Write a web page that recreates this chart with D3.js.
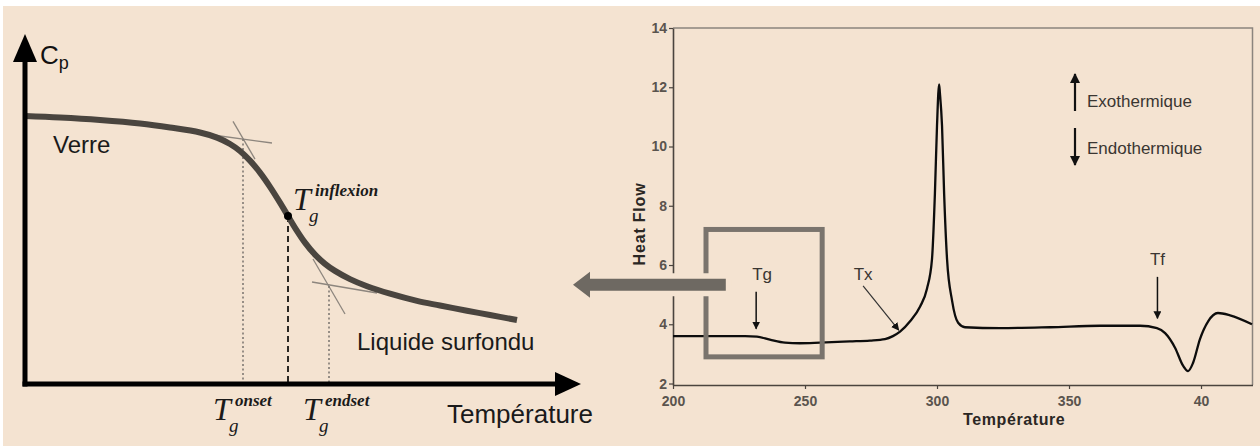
<!DOCTYPE html>
<html>
<head>
<meta charset="utf-8">
<script src="https://cdn.jsdelivr.net/npm/d3@7/dist/d3.min.js"></script>
<style>
  html, body { margin: 0; padding: 0; background: #ffffff; }
  svg { display: block; }
</style>
</head>
<body>
<svg id="fig" width="1260" height="446"></svg>
<script>
// ---------- Left panel: schematic Cp(T) across the glass transition ----------
const cpTemp = [0, 35, 75, 115, 145, 175, 192, 205, 215, 225, 235, 245, 255, 263, 271, 280, 290, 300, 310, 325, 342, 365, 392, 415, 442, 465, 492];
const cpValue = [268, 266.5, 264, 260.5, 256.5, 251.5, 246.4, 240, 233, 223.4, 211.4, 197.2, 181.4, 168, 154.7, 141.4, 129.4, 120.2, 113.1, 104.9, 97.8, 90.3, 83.1, 78.5, 73.2, 69, 64];

// characteristic temperatures (onset, inflexion, endset) and the Cp level where each is read
const tgNames = ["onset", "inflexion", "endset"];
const tgTemp = [218, 263, 304];
const tgCp = [245, 168, 98];

// tangent segments: [T1, Cp1, T2, Cp2]
const tangentGlass = [188, 249, 247, 241];
const tangentSteepUpper = [208, 262.6, 230, 224.8];
const tangentSteepLower = [288, 125, 320, 70];
const tangentLiquid = [287, 102, 352, 91];

// ---------- Right panel: DSC trace ----------
const dscTemp = [200, 217.8, 227.3, 231.8, 236.7, 242.4, 248, 255.7, 267, 274.6, 280.3, 283.3, 286, 289.8, 293.6, 296.2, 298.1, 299.2, 300, 300.8, 301.1, 301.9, 302.7, 303.8, 305.7, 308, 310.6, 323.9, 342.8, 361.7, 376.9, 383.3, 386.4, 390.2, 393.2, 395.1, 397, 399.6, 402.7, 406.4, 411, 419.3];
const dscHeatFlow = [3.6, 3.6, 3.6, 3.58, 3.48, 3.38, 3.36, 3.38, 3.42, 3.45, 3.5, 3.6, 3.75, 4.1, 4.6, 5.2, 6.2, 8.4, 10.7, 12.1, 11.8, 10.7, 8.4, 6.2, 4.8, 4.05, 3.9, 3.87, 3.9, 3.95, 3.95, 3.87, 3.7, 3.2, 2.6, 2.42, 2.7, 3.5, 4.1, 4.38, 4.3, 4.0];

const yTicks = [2, 4, 6, 8, 10, 12, 14];
const yTickLabels = ["2", "4", "6", "8", "10", "12", "14"];
const xTicks = [200, 250, 300, 350, 400];
const xTickLabels = ["200", "250", "300", "350", "40"];

// event markers on the DSC trace: label, temperature, arrow start/end heat flow
const eventLabels = ["Tg", "Tf"];
const eventTemp = [231.5, 383.5];
const eventFrom = [5.1, 5.6];
const eventTo = [3.85, 4.2];

const BG = "#f4e3d1";
const svg = d3.select("#fig");

svg.append("rect").attr("x", 3).attr("y", 6).attr("width", 1257).attr("height", 440).attr("fill", BG);

const defs = svg.append("defs");
function addTip(id, size) {
  defs.append("marker").attr("id", id).attr("viewBox", "0 0 10 10")
    .attr("refX", 9).attr("refY", 5).attr("markerWidth", size).attr("markerHeight", size)
    .attr("markerUnits", "userSpaceOnUse").attr("orient", "auto")
    .append("path").attr("d", "M0,0 L10,5 L0,10 Z").attr("fill", "#111");
}
addTip("tip", 8);
addTip("tipBig", 10);

// ================= LEFT PANEL =================
const xL = d3.scaleLinear().domain([0, 555]).range([25, 580]);
const yL = d3.scaleLinear().domain([0, 350]).range([384, 34]);
const gL = svg.append("g");

// tangents (thin)
[tangentGlass, tangentSteepUpper, tangentSteepLower, tangentLiquid].forEach(t => {
  gL.append("line")
    .attr("x1", xL(t[0])).attr("y1", yL(t[1])).attr("x2", xL(t[2])).attr("y2", yL(t[3]))
    .attr("stroke", "#8d867e").attr("stroke-width", 1.3);
});

// vertical guides at Tg onset / inflexion / endset
tgTemp.forEach((t, i) => {
  const isInf = tgNames[i] === "inflexion";
  gL.append("line")
    .attr("x1", xL(t)).attr("x2", xL(t)).attr("y1", yL(tgCp[i])).attr("y2", yL(0))
    .attr("stroke", isInf ? "#2a2622" : "#7f7973")
    .attr("stroke-width", isInf ? 2 : 1.6)
    .attr("stroke-dasharray", isInf ? "6,4" : "2,2.5");
});

// Cp curve
const cpLine = d3.line().x((d, i) => xL(cpTemp[i])).y((d, i) => yL(cpValue[i])).curve(d3.curveCatmullRom.alpha(0.5));
gL.append("path").datum(cpTemp).attr("d", cpLine)
  .attr("fill", "none").attr("stroke", "#4a453f").attr("stroke-width", 6).attr("stroke-linecap", "butt");

// inflexion point
gL.append("circle").attr("cx", xL(tgTemp[1])).attr("cy", yL(tgCp[1])).attr("r", 4).attr("fill", "#000");

// axes with arrow heads
gL.append("line").attr("x1", xL(0)).attr("x2", xL(0)).attr("y1", yL(0) + 2.5).attr("y2", 58)
  .attr("stroke", "#000").attr("stroke-width", 5);
gL.append("path").attr("d", `M${xL(0)},34 L${xL(0) + 12},62 L${xL(0) - 12},62 Z`).attr("fill", "#000");
gL.append("line").attr("x1", xL(0) - 2.5).attr("x2", 560).attr("y1", yL(0)).attr("y2", yL(0))
  .attr("stroke", "#000").attr("stroke-width", 5);
gL.append("path").attr("d", `M581,${yL(0)} L555,${yL(0) - 12} L555,${yL(0) + 12} Z`).attr("fill", "#000");

// axis titles and region labels
const sans = "'Liberation Sans', Arial, sans-serif";
const serif = "'Liberation Serif', 'Times New Roman', serif";
const cp = gL.append("text").attr("x", 40).attr("y", 64).attr("font-family", sans).attr("font-size", 26).attr("fill", "#111");
cp.append("tspan").text("C");
cp.append("tspan").attr("dy", 5).attr("font-size", 18).text("p");

gL.append("text").attr("x", 53).attr("y", 153).attr("font-family", sans).attr("font-size", 24).attr("fill", "#1a1a1a").text("Verre");
gL.append("text").attr("x", 357).attr("y", 350).attr("font-family", sans).attr("font-size", 24).attr("fill", "#1a1a1a").text("Liquide surfondu");
gL.append("text").attr("x", 447).attr("y", 423).attr("font-family", sans).attr("font-size", 26).attr("fill", "#1a1a1a").text("Température");

// T_g labels
function tgLabel(x, y, sup) {
  const g = gL.append("g").attr("font-family", serif).attr("font-style", "italic").attr("fill", "#1a1a1a");
  g.append("text").attr("x", x).attr("y", y).attr("font-size", 32).text("T");
  g.append("text").attr("x", x + 22).attr("y", y - 14).attr("font-size", 17).attr("font-weight", "bold").text(sup);
  g.append("text").attr("x", x + 16).attr("y", y + 12).attr("font-size", 19).text("g");
}
tgLabel(293, 210, tgNames[1]);
tgLabel(xL(tgTemp[0]) - 30, 420, tgNames[0]);
tgLabel(xL(tgTemp[2]) - 26, 420, tgNames[2]);

// ================= RIGHT PANEL =================
const xR = d3.scaleLinear().domain([200, 419.5]).range([673, 1252.5]);
const yR = d3.scaleLinear().domain([1.95, 14]).range([385, 28]);
const gR = svg.append("g");

// frame (top and right)
gR.append("path").attr("d", `M${xR(200)},${yR(14)} H${xR(419.5)} V${yR(1.95)}`)
  .attr("fill", "none").attr("stroke", "#8b857e").attr("stroke-width", 1.5);

const yAxis = d3.axisLeft(yR).tickValues(yTicks).tickFormat((d, i) => yTickLabels[i]).tickSize(4).tickSizeOuter(0);
const yg = gR.append("g").attr("transform", `translate(${xR(200)},0)`).call(yAxis);
const xAxis = d3.axisBottom(xR).tickValues(xTicks).tickFormat((d, i) => xTickLabels[i]).tickSize(4).tickSizeOuter(0);
const xg = gR.append("g").attr("transform", `translate(0,${yR(1.95)})`).call(xAxis);
[yg, xg].forEach(g => {
  g.select(".domain").attr("stroke", "#4a443e").attr("stroke-width", 1.6);
  g.selectAll(".tick line").attr("stroke", "#4a443e").attr("stroke-width", 1.2);
  g.selectAll(".tick text").attr("font-family", sans).attr("font-size", 14).attr("font-weight", "bold").attr("fill", "#5a544e");
});
yg.selectAll(".tick text").attr("x", -6);
xg.selectAll(".tick text").attr("y", 11);

gR.append("text").attr("transform", `translate(645,224) rotate(-90)`)
  .attr("text-anchor", "middle").attr("font-family", sans).attr("font-size", 16).attr("font-weight", "bold")
  .attr("letter-spacing", 0.8).attr("fill", "#2b2724").text("Heat Flow");
gR.append("text").attr("x", 963).attr("y", 425).attr("font-family", sans).attr("font-size", 16)
  .attr("font-weight", "bold").attr("letter-spacing", 0.6).attr("fill", "#2b2724").text("Température");

// DSC curve
const dscLine = d3.line().x((d, i) => xR(dscTemp[i])).y((d, i) => yR(dscHeatFlow[i])).curve(d3.curveMonotoneX);
gR.append("path").datum(dscTemp).attr("d", dscLine)
  .attr("fill", "none").attr("stroke", "#0d0d0d").attr("stroke-width", 2.3);

// event arrows
eventLabels.forEach((lab, i) => {
  const x = xR(eventTemp[i]);
  gR.append("line").attr("x1", x).attr("x2", x).attr("y1", yR(eventFrom[i])).attr("y2", yR(eventTo[i]))
    .attr("stroke", "#111").attr("stroke-width", 1.5).attr("marker-end", "url(#tip)");
  gR.append("text").attr("x", x + (lab === "Tg" ? 6 : 0)).attr("y", yR(eventFrom[i]) - 12).attr("text-anchor", "middle")
    .attr("font-family", sans).attr("font-size", 17).attr("fill", "#3a3632").text(lab);
});
// crystallisation onset
gR.append("line").attr("x1", xR(272)).attr("y1", yR(5.3)).attr("x2", xR(285.5)).attr("y2", yR(3.8))
  .attr("stroke", "#333").attr("stroke-width", 1.2).attr("marker-end", "url(#tip)");
gR.append("text").attr("x", xR(272)).attr("y", yR(5.1) - 12).attr("text-anchor", "middle")
  .attr("font-family", sans).attr("font-size", 17).attr("fill", "#3a3632").text("Tx");

// legend: exo / endo
const lx = 1075;
gR.append("line").attr("x1", lx).attr("x2", lx).attr("y1", 111).attr("y2", 74)
  .attr("stroke", "#111").attr("stroke-width", 2.2).attr("marker-end", "url(#tipBig)");
gR.append("line").attr("x1", lx).attr("x2", lx).attr("y1", 128).attr("y2", 165)
  .attr("stroke", "#111").attr("stroke-width", 2.2).attr("marker-end", "url(#tipBig)");
gR.append("text").attr("x", 1087).attr("y", 107).attr("font-family", sans).attr("font-size", 17).attr("fill", "#3a3632").text("Exothermique");
gR.append("text").attr("x", 1087).attr("y", 154).attr("font-family", sans).attr("font-size", 17).attr("fill", "#3a3632").text("Endothermique");

// highlight box around Tg region
gR.append("rect").attr("x", xR(212.5)).attr("y", yR(7.2)).attr("width", xR(256.5) - xR(212.5)).attr("height", yR(2.9) - yR(7.2))
  .attr("fill", "none").attr("stroke", "#7a746d").attr("stroke-width", 5);

// connector arrow pointing from the Tg box to the left schematic
const ay = yR(5.33), ax0 = xL(548), ax1 = xR(220);
const arrowPath = `M${ax0},${ay} L${ax0 + 17},${ay - 13} L${ax0 + 17},${ay - 6} L${ax1},${ay - 6} L${ax1},${ay + 6} L${ax0 + 17},${ay + 6} L${ax0 + 17},${ay + 13} Z`;
svg.append("path").attr("d", arrowPath).attr("fill", BG).attr("stroke", BG).attr("stroke-width", 11).attr("stroke-linejoin", "round");
svg.append("path").attr("d", arrowPath).attr("fill", "#6e6962");
</script>
</body>
</html>
